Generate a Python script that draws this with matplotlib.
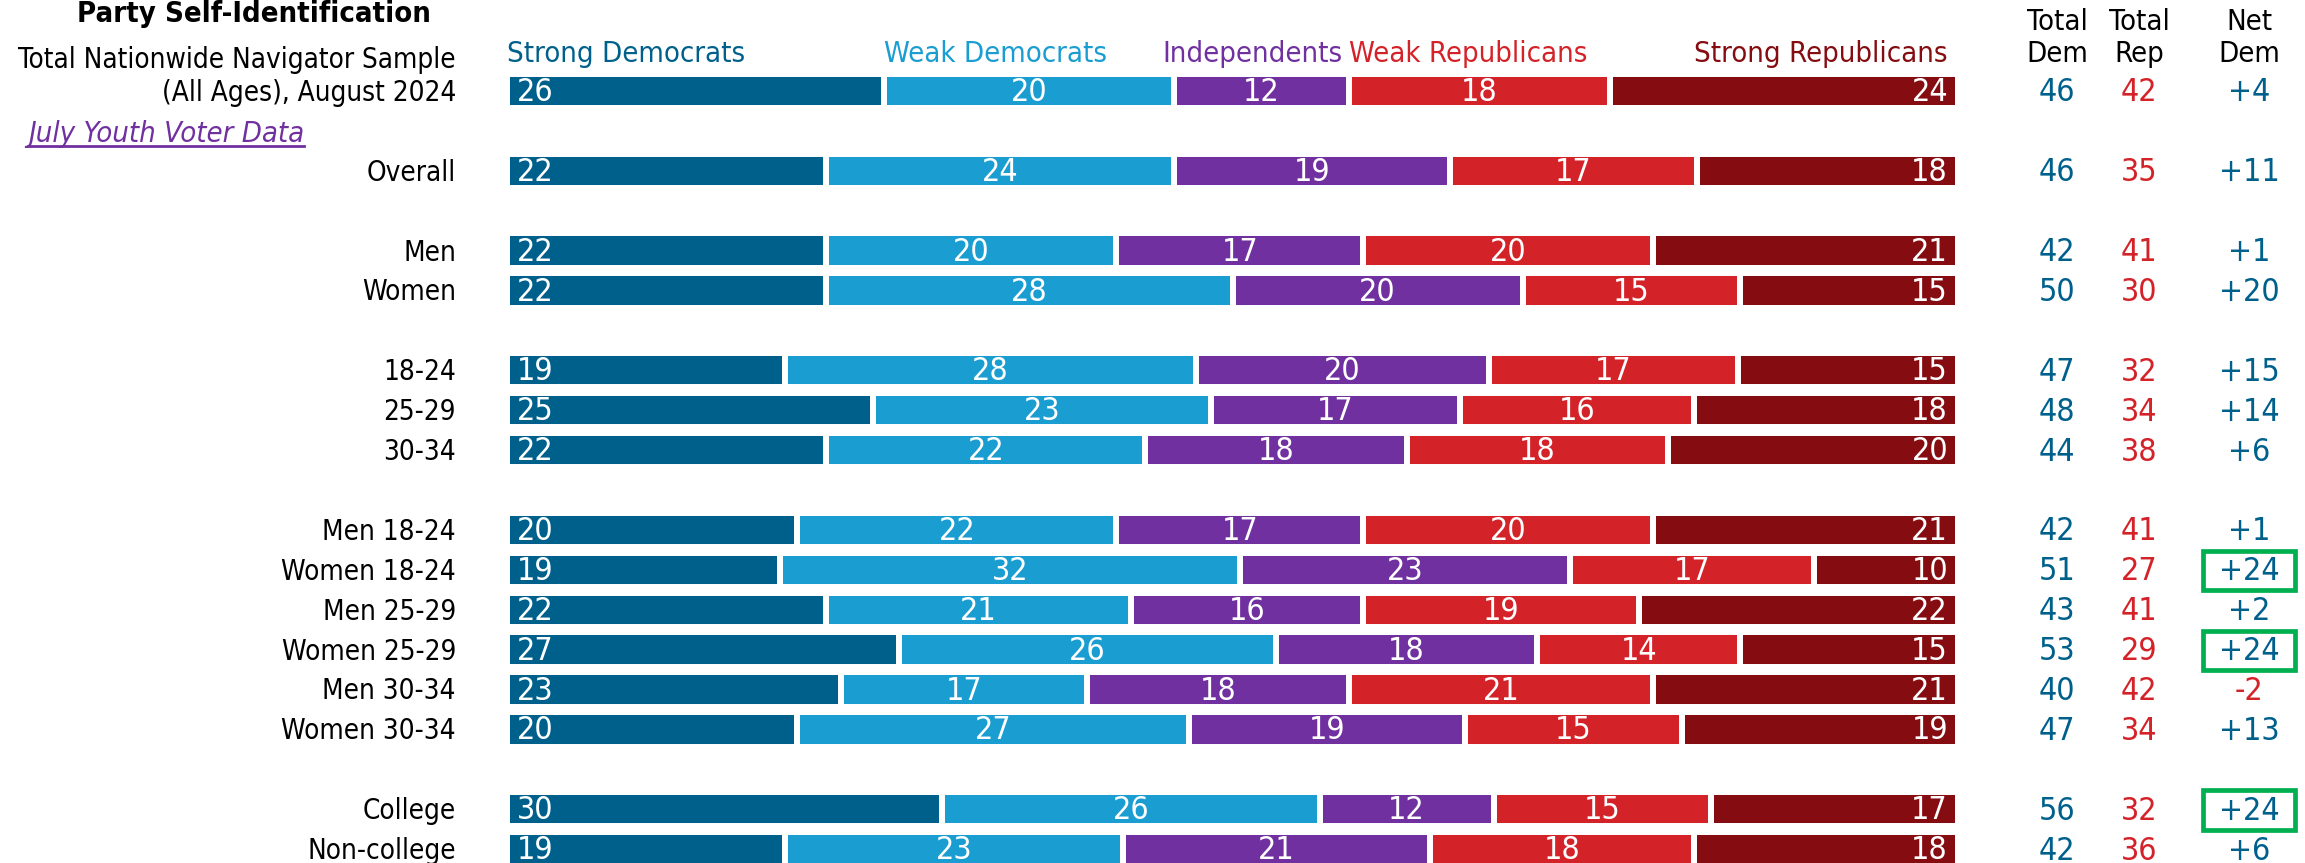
import matplotlib.pyplot as plt
from matplotlib.patches import Rectangle
from matplotlib.lines import Line2D
from matplotlib.transforms import IdentityTransform
import numpy as np

plt.rcParams['font.family'] = ['Liberation Sans Narrow', 'DejaVu Sans']
plt.rcParams['font.stretch'] = 'condensed'

groups = ["Total Nationwide Navigator Sample\n(All Ages), August 2024",
          "Overall", "Men", "Women", "18-24", "25-29", "30-34",
          "Men 18-24", "Women 18-24", "Men 25-29", "Women 25-29",
          "Men 30-34", "Women 30-34", "College", "Non-college"]
slots = [0, 2, 4, 5, 7, 8, 9, 11, 12, 13, 14, 15, 16, 18, 19]

parties = ["Strong Democrats", "Weak Democrats", "Independents",
           "Weak Republicans", "Strong Republicans"]
strong_dem = [26, 22, 22, 22, 19, 25, 22, 20, 19, 22, 27, 23, 20, 30, 19]
weak_dem = [20, 24, 20, 28, 28, 23, 22, 22, 32, 21, 26, 17, 27, 26, 23]
independents = [12, 19, 17, 20, 20, 17, 18, 17, 23, 16, 18, 18, 19, 12, 21]
weak_rep = [18, 17, 20, 15, 17, 16, 18, 20, 17, 19, 14, 21, 15, 15, 18]
strong_rep = [24, 18, 21, 15, 15, 18, 20, 21, 10, 22, 15, 21, 19, 17, 18]

highlighted = ["Women 18-24", "Women 25-29", "College"]

colors = ["#00608C", "#1A9DD0", "#7030A0", "#D42229", "#850C10"]
DEM_BLUE = "#00608C"
REP_RED = "#D42229"
GREEN = "#00B050"

# page layout in pixels
W, H = 2305, 863
BAR_L, BAR_R = 507, 1958
ROW0, STEP = 91, 39.9
sx = (BAR_R - BAR_L) / 100


def px2x(px):
    return (px - BAR_L) / sx


def px2y(py):
    return (py - ROW0) / STEP


fig = plt.figure(figsize=(W / 100, H / 100), dpi=100)
ax = fig.add_axes([0, 0, 1, 1])
ax.set_xlim(px2x(0), px2x(W))
ax.set_ylim(px2y(H), px2y(0))
ax.axis('off')

data = np.array([strong_dem, weak_dem, independents, weak_rep, strong_rep], dtype=float)
shares = data / data.sum(axis=0) * 100
lefts = np.vstack([np.zeros(len(groups)), np.cumsum(shares, axis=0)[:-1]])

num_fs = 23
pad = px2x(BAR_L + 10)
for k in range(5):
    ax.barh(slots, shares[k], left=lefts[k], height=0.86, color=colors[k],
            edgecolor='white', linewidth=4.3)
    for i, y in enumerate(slots):
        v = int(data[k, i])
        if k == 0:
            x, ha = lefts[k, i] + pad, 'left'
        elif k == 4:
            x, ha = 100 - pad, 'right'
        else:
            x, ha = lefts[k, i] + shares[k, i] / 2, 'center'
        ax.text(x, y + 0.04, str(v), color='white', fontsize=num_fs, ha=ha, va='center')

# party names above the first bar
hy = px2y(54)
hfs = 21
ax.text(0, hy, parties[0], color=colors[0], fontsize=hfs, ha='left', va='center')
ax.text(lefts[1, 0], hy, parties[1], color=colors[1], fontsize=hfs, ha='left', va='center')
ax.text(lefts[3, 0] - 0.4, hy, parties[2], color=colors[2], fontsize=hfs, ha='right', va='center')
ax.text(lefts[3, 0], hy, parties[3], color=colors[3], fontsize=hfs, ha='left', va='center')
ax.text(99.3, hy, parties[4], color=colors[4], fontsize=hfs, ha='right', va='center')

# row labels (the two-line sample label sits a bit higher)
for name, y in zip(groups, slots):
    off = -0.36 if "\n" in name else 0.05
    ax.text(px2x(456), y + off, name, fontsize=20, ha='right', va='center', linespacing=1.25)

ax.text(px2x(254), px2y(14), "Party Self-Identification", fontsize=21,
        fontweight='bold', ha='center', va='center')

link = ax.text(px2x(28), px2y(134), "July Youth Voter Data", fontsize=21,
               style='italic', color="#7030A0", ha='left', va='center')

# totals columns
col_dem, col_rep, col_net = px2x(2057), px2x(2139), px2x(2249)
for x, head in [(col_dem, "Total\nDem"), (col_rep, "Total\nRep"), (col_net, "Net\nDem")]:
    ax.text(x, px2y(38), head, fontsize=21, ha='center', va='center', linespacing=1.15)

for i, y in enumerate(slots):
    td = strong_dem[i] + weak_dem[i]
    tr = weak_rep[i] + strong_rep[i]
    net = td - tr
    ax.text(col_dem, y + 0.05, str(td), color=DEM_BLUE, fontsize=23, ha='center', va='center')
    ax.text(col_rep, y + 0.05, str(tr), color=REP_RED, fontsize=23, ha='center', va='center')
    ax.text(col_net, y + 0.05, f"{net:+d}", color=DEM_BLUE if net >= 0 else REP_RED,
            fontsize=23, ha='center', va='center')
    if groups[i] in highlighted:
        bw = 92 / sx
        ax.add_patch(Rectangle((col_net - bw / 2, y - 0.47), bw, 0.98, fill=False,
                               edgecolor=GREEN, linewidth=3.4))

# underline under the link text
fig.canvas.draw()
bb = link.get_window_extent()
fig.add_artist(Line2D([bb.x0, bb.x1], [bb.y0 + 2, bb.y0 + 2], color="#7030A0",
                      linewidth=2, transform=IdentityTransform()))

fig.savefig("out.png", dpi=100)
